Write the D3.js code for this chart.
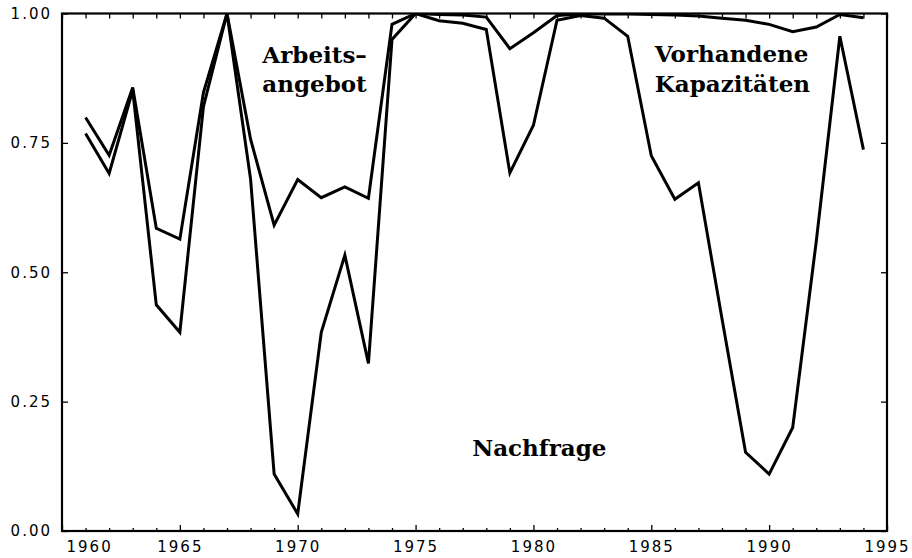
<!DOCTYPE html>
<html>
<head>
<meta charset="utf-8">
<script src="https://cdn.jsdelivr.net/npm/d3@7"></script>
<style>
  body { margin: 0; background: #fff; }
  svg { display: block; }
  .tick text { font-family: "DejaVu Sans", sans-serif; font-size: 15px; letter-spacing: 2px; fill: #000; }
  .lbl { font-family: "DejaVu Serif", serif; font-weight: bold; font-size: 23px; fill: #000; }
</style>
</head>
<body>
<div id="graph"></div>
<script>
const w = 912;
const h = 558;
const padL = 62, padR = 887, padT = 13.5, padB = 531;

// years of observations
const years = [1961,1962,1963,1964,1965,1966,1967,1968,1969,1970,
               1971,1972,1973,1974,1975,1976,1977,1978,1979,1980,
               1981,1982,1983,1984,1985,1986,1987,1988,1989,1990,
               1991,1992,1993,1994];
// lower curve (Nachfrage)
const lower = [0.768,0.691,0.852,0.437,0.384,0.820,1.000,0.680,0.110,0.033,
               0.384,0.533,0.324,0.950,1.000,0.986,0.981,0.969,0.692,0.784,
               0.987,0.996,0.991,0.956,0.725,0.641,0.673,0.410,0.152,0.110,
               0.200,0.560,0.956,0.737];
// upper curve (Nachfrage + Kapazitaeten)
const upper = [0.799,0.726,0.857,0.585,0.564,0.847,1.000,0.757,0.591,0.679,
               0.644,0.665,0.643,0.979,1.000,0.998,0.997,0.993,0.932,0.963,
               0.996,0.999,0.999,0.999,0.998,0.997,0.995,0.991,0.987,0.979,
               0.965,0.974,0.998,0.992];

const xTicks = d3.range(1960, 1996);
const xLabels = [1960,1965,1970,1975,1980,1985,1990,1995];
const yTicks = [0, 0.25, 0.5, 0.75, 1];

const labels = [
  {text: "Arbeits\u2013", year: 1968.5, v: 0.905},
  {text: "angebot", year: 1968.5, v: 0.848},
  {text: "Vorhandene", year: 1985.15, v: 0.907},
  {text: "Kapazit\u00e4ten", year: 1985.15, v: 0.848},
  {text: "Nachfrage", year: 1977.4, v: 0.145}
];

const x = d3.scaleLinear().domain([1960, 1995]).range([padL, padR]);
const y = d3.scaleLinear().domain([0, 1]).range([padB, padT]);

const svg = d3.select("#graph").append("svg")
  .attr("width", w).attr("height", h);

svg.append("defs").append("clipPath").attr("id", "clip")
  .append("rect").attr("x", padL).attr("y", padT).attr("width", padR - padL).attr("height", padB - padT);

const line = d3.line().x(d => x(d[0])).y(d => y(d[1]));

[lower, upper].forEach(s => {
  svg.append("path")
    .datum(years.map((yr, i) => [yr, s[i]]))
    .attr("clip-path", "url(#clip)")
    .attr("fill", "none")
    .attr("stroke", "#000")
    .attr("stroke-width", 3)
    .attr("stroke-linejoin", "miter")
    .attr("d", line);
});

// bottom axis
const xAxis = svg.append("g")
  .attr("transform", "translate(0," + padB + ")")
  .call(d3.axisBottom(x).tickValues(xTicks).tickSize(-3).tickPadding(10)
    .tickFormat(d => xLabels.includes(d) ? d : ""));
xAxis.selectAll(".tick line").attr("y2", d => d % 5 === 0 ? -6 : -3).attr("stroke-width", 1.3);
xAxis.selectAll(".tick text").filter(d => d === 1960).attr("text-anchor", "start").attr("dx", 4);

// top axis
const xTop = svg.append("g")
  .attr("transform", "translate(0," + padT + ")")
  .call(d3.axisTop(x).tickValues(xTicks).tickSize(-5).tickFormat(""));
xTop.selectAll(".tick line").attr("stroke-width", 1.3);

// left axis
const yAxis = svg.append("g")
  .attr("transform", "translate(" + padL + ",0)")
  .call(d3.axisLeft(y).tickValues(yTicks).tickSize(-6).tickPadding(10).tickFormat(d3.format(".2f")));
yAxis.selectAll(".tick line").attr("stroke-width", 1.3);

// right axis
const yRight = svg.append("g")
  .attr("transform", "translate(" + padR + ",0)")
  .call(d3.axisRight(y).tickValues(yTicks).tickSize(-6).tickFormat(""));
yRight.selectAll(".tick line").attr("stroke-width", 1.3);

svg.selectAll(".domain").remove();

svg.append("rect")
  .attr("x", padL).attr("y", padT)
  .attr("width", padR - padL).attr("height", padB - padT)
  .attr("fill", "none").attr("stroke", "#000").attr("stroke-width", 2.2);

svg.selectAll("text.lbl")
  .data(labels)
  .enter()
  .append("text")
  .attr("class", "lbl")
  .attr("x", d => x(d.year))
  .attr("y", d => y(d.v))
  .text(d => d.text);
</script>
</body>
</html>
